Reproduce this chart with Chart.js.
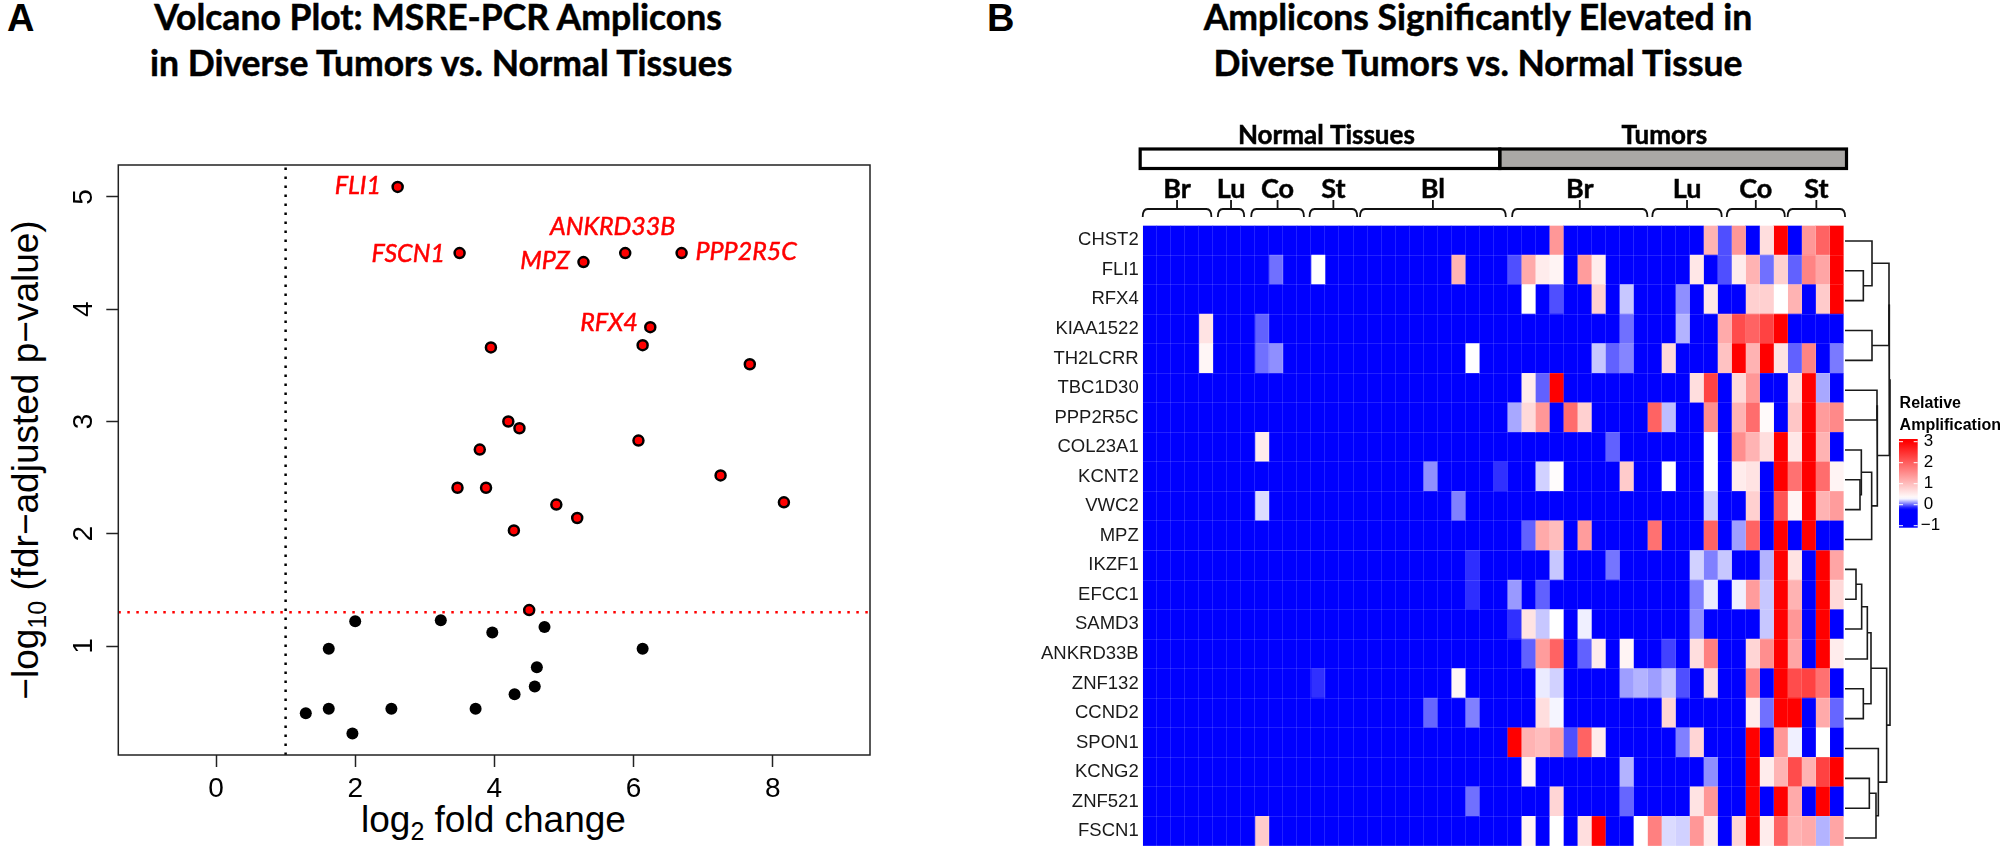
<!DOCTYPE html>
<html>
<head>
<meta charset="utf-8">
<title>Volcano plot and amplicon heatmap</title>
<script src="https://cdn.jsdelivr.net/npm/chart.js@4"></script>
<style>
html, body { margin: 0; padding: 0; background: #fff; width: 2000px; height: 861px; overflow: hidden; }
canvas { position: absolute; top: 0; }
.txt { position: absolute; white-space: nowrap; color: #000; }
.title { font: 700 37px Lato; text-align: center; line-height: 46px; -webkit-text-stroke: 0.5px #000; }
.axis { font: 37px "Liberation Sans"; }
.axis sub { font-size: 25px; line-height: 0; vertical-align: -8px; }
.panel { font: 700 38px "Liberation Sans"; }
</style>
</head>
<body>
<div class="txt panel" style="left:7px;top:-3px">A</div>
<div class="txt panel" style="left:987px;top:-3px">B</div>
<div class="txt title" style="left:138px;width:600px;top:-7px;transform:scaleX(.96)">Volcano Plot: MSRE-PCR Amplicons<br>in Diverse Tumors vs. Normal Tissues</div>
<div class="txt title" style="left:1178px;width:600px;top:-7px;transform:scaleX(.96)">Amplicons Significantly Elevated in<br>Diverse Tumors vs. Normal Tissue</div>
<div class="txt axis" style="left:361px;top:799px">log<sub>2</sub> fold change</div>
<div class="txt axis" id="ytitle" style="left:26px;top:460px;transform:translate(-50%,-50%) rotate(-90deg)">&minus;log<sub>10</sub> (fdr&minus;adjusted p&minus;value)</div>

<canvas id="volcano" width="900" height="861" style="left:0"></canvas>
<canvas id="heat" width="960" height="861" style="left:1040px"></canvas>
<canvas id="dendro" width="50" height="627" style="left:1845px;top:225.5px"></canvas>

<script>
// panel A - volcano points
var sigX = [2.61, 3.50, 5.28, 5.88, 6.69, 6.24, 6.13, 3.95, 7.67, 4.20, 4.36, 6.07, 3.79, 3.47, 3.88, 7.25, 4.89, 8.16, 5.19, 4.28, 4.50];
var sigY = [5.09, 4.50, 4.42, 4.50, 4.50, 3.84, 3.68, 3.66, 3.51, 3.00, 2.94, 2.83, 2.75, 2.41, 2.41, 2.52, 2.26, 2.28, 2.14, 2.03, 1.32];
var nsX = [2.00, 3.23, 3.97, 4.72, 1.62, 6.13, 4.61, 4.58, 4.29, 3.73, 2.52, 1.62, 1.29, 1.96];
var nsY = [1.22, 1.23, 1.12, 1.17, 0.975, 0.975, 0.81, 0.64, 0.57, 0.44, 0.44, 0.44, 0.40, 0.22];

// gene names next to points, x/y in axis units
var geneLabels = ["FLI1", "FSCN1", "ANKRD33B", "MPZ", "PPP2R5C", "RFX4"];
var geneLabelX = [2.37, 3.29, 5.70, 5.08, 6.89, 6.06];
var geneLabelY = [5.10, 4.49, 4.73, 4.43, 4.51, 3.88];
var geneLabelAlign = ["right", "right", "center", "right", "left", "right"];

var foldCutoff = 1;
var fdrCutoff = 1.3;
var volcanoXRange = [-1.404, 9.397];
var volcanoYRange = [0.029, 5.285];

// panel B - heatmap, one array per amplicon, 50 samples each
var o = -1; // bottom of the scale, solid blue
var CHST2 =    [o,o,o,o,o,o,o,o,o,o, o,o,o,o,o,o,o,o,o,o, o,o,o,o,o,o,o,o,o,1.4, o,o,o,o,o,o,o,o,o,o, 1.1,-.045,1.4,o,.65,3,o,1.4,1.95,3];
var FLI1 =     [o,o,o,o,o,o,o,o,o,.02, o,o,.3,o,o,o,o,o,o,o, o,o,1.1,o,o,o,-.045,1.2,.5,.42, o,1.35,.5,o,o,o,o,o,o,.55, o,-.045,.5,1.1,.02,.8,-.01,1.6,1.25,3];
var RFX4 =     [o,o,o,o,o,o,o,o,o,o, o,o,o,o,o,o,o,o,o,o, o,o,o,o,o,o,o,.3,o,-.045, o,o,.8,o,.19,o,o,o,.08,o, .55,o,o,.8,.8,.3,1.1,o,.85,3];
var KIAA1522 = [o,o,o,o,.6,o,o,o,-.01,o, o,o,o,o,o,o,o,o,o,o, o,o,o,o,o,o,o,o,o,o, o,o,o,o,.02,o,o,o,.15,o, o,1.2,2.2,1.95,2.3,3,o,o,o,o];
var TH2LCRR =  [o,o,o,o,.4,o,o,o,.02,.08, o,o,o,o,o,o,o,o,o,o, o,o,o,.3,o,o,o,o,o,o, o,o,.19,-.01,.06,o,o,.7,o,o, o,.95,3,1.1,3,.6,-.01,1.6,o,.04];
var TBC1D30 =  [o,o,o,o,o,o,o,o,o,o, o,o,o,o,o,o,o,o,o,o, o,o,o,o,o,o,o,.5,-.01,3, o,o,o,o,o,o,o,o,o,.65, 2.3,o,.7,1.4,o,o,.65,3,.13,o];
var PPP2R5C =  [o,o,o,o,o,o,o,o,o,o, o,o,o,o,o,o,o,o,o,o, o,o,o,o,o,o,.13,.7,1.4,o, 1.85,.8,o,o,o,o,1.95,.17,o,o, 1.5,o,1.1,1.85,.35,o,.9,3,1.35,1.55];
var COL23A1 =  [o,o,o,o,o,o,o,o,.5,o, o,o,o,o,o,o,o,o,o,o, o,o,o,o,o,o,o,o,o,o, o,o,o,-.01,o,o,o,o,o,o, .3,o,1.5,1.1,.65,3,.55,3,1.1,o];
var KCNT2 =    [o,o,o,o,o,o,o,o,o,o, o,o,o,o,o,o,o,o,o,o, .08,o,o,o,o,-.105,o,o,.21,.33, o,o,o,o,.85,o,o,.3,o,o, .3,o,.5,.6,o,3,1.8,3,1.85,.42];
var VWC2 =     [o,o,o,o,o,o,o,o,.23,o, o,o,o,o,o,o,o,o,o,o, o,o,.05,o,o,o,o,o,o,o, o,o,o,o,o,o,o,o,o,o, .21,o,o,.8,o,2.1,.42,3,1.1,1.35];
var MPZ =      [o,o,o,o,o,o,o,o,o,o, o,o,o,o,o,o,o,o,o,o, o,o,o,o,o,o,o,-.01,1.2,1, o,1.35,o,o,o,o,1.8,o,o,o, 1.95,o,.11,1.95,o,3,o,3,o,o];
var IKZF1 =    [o,o,o,o,o,o,o,o,o,o, o,o,o,o,o,o,o,o,o,o, o,o,o,-.11,o,o,o,o,o,.19, o,o,o,.03,o,o,o,o,o,.21, .05,.19,o,o,.15,3,.6,o,3,1.25];
var EFCC1 =    [o,o,o,o,o,o,o,o,o,o, o,o,o,o,o,o,o,o,o,o, o,o,o,-.11,o,o,.1,o,-.01,o, o,o,o,o,o,o,o,o,o,.05, .26,o,.27,1.35,.19,3,1.1,o,3,.7];
var SAMD3 =    [o,o,o,o,o,o,o,o,o,o, o,o,o,o,o,o,o,o,o,o, o,o,o,o,o,o,-.105,.6,.19,.3, o,.27,o,o,o,o,o,o,o,.08, o,o,o,o,.19,3,1.4,o,3,o];
var ANKRD33B = [o,o,o,o,o,o,o,o,o,o, o,o,o,o,o,o,o,o,o,o, o,o,o,o,o,o,o,-.01,1.35,1.95, o,-.01,.5,o,.42,o,o,-.07,o,.65, 1.65,o,o,.75,1.5,3,1.25,o,3,.5];
var ZNF132 =   [o,o,o,o,o,o,o,o,o,o, o,o,-.105,o,o,o,o,o,o,o, o,o,.4,o,o,o,o,o,.26,.21, o,o,o,o,.11,.15,.11,.19,-.045,o, .65,o,o,1.65,o,3,2.2,2.3,1.8,o];
var CCND2 =    [o,o,o,o,o,o,o,o,o,o, o,o,o,o,o,o,o,o,o,o, 0,o,o,.05,o,o,o,o,.65,.28, o,o,o,o,o,o,o,.75,o,o, o,o,o,.5,.02,3,3,o,1.2,0];
var SPON1 =    [o,o,o,o,o,o,o,o,o,o, o,o,o,o,o,o,o,o,o,o, o,o,o,o,o,o,3,1.1,1,1.25, -.045,1.95,.5,o,o,o,o,o,.05,.75, o,o,o,3,o,1.4,.27,o,.3,o];
var KCNG2 =    [o,o,o,o,o,o,o,o,o,o, o,o,o,o,o,o,o,o,o,o, o,o,o,o,o,o,o,.42,o,o, o,o,o,o,.15,o,o,o,o,o, .08,o,o,3,.5,1.1,2.2,1.1,2.3,3];
var ZNF521 =   [o,o,o,o,o,o,o,o,o,o, o,o,o,o,o,o,o,o,o,o, o,o,o,.02,o,o,o,o,o,.75, o,o,o,o,0,o,o,o,o,.6, 1.4,o,o,3,o,3,1.2,o,3,o];
var FSCN1 =    [o,o,o,o,o,o,o,o,.85,o, o,o,o,o,o,o,o,o,o,o, o,o,o,o,o,o,o,.42,o,.3, o,.65,3,o,o,.3,1.65,.23,.21,1.4, .5,o,.75,3,.5,1.95,1.1,1.2,.15,1.25];

var rowNames = ["CHST2", "FLI1", "RFX4", "KIAA1522", "TH2LCRR", "TBC1D30", "PPP2R5C", "COL23A1", "KCNT2", "VWC2", "MPZ",
    "IKZF1", "EFCC1", "SAMD3", "ANKRD33B", "ZNF132", "CCND2", "SPON1", "KCNG2", "ZNF521", "FSCN1"];
var rowValues = [CHST2, FLI1, RFX4, KIAA1522, TH2LCRR, TBC1D30, PPP2R5C, COL23A1, KCNT2, VWC2, MPZ,
    IKZF1, EFCC1, SAMD3, ANKRD33B, ZNF132, CCND2, SPON1, KCNG2, ZNF521, FSCN1];
var sampleCount = 50;

// column annotations, in sample units
var classLabels = ["Normal Tissues", "Tumors"];
var classStart = [-0.18, 25.47];
var classEnd = [25.47, 50.2];
var classCenter = [13.1, 37.2];
var tissueLabels = ["Br", "Lu", "Co", "St", "Bl", "Br", "Lu", "Co", "St"];
var tissueStart = [0, 5.36, 7.74, 11.9, 15.5, 26.35, 36.35, 41.66, 46];
var tissueEnd = [4.9, 7.24, 11.5, 15.3, 25.9, 36, 41.3, 45.8, 50.1];

// colour key
var keyTicks = [3, 2, 1, 0, -1];

// row dendrogram, hclust style: negative = row (1 based), positive = earlier merge
var mergeLeft = [-2, -1, -4, 2, -6, -9, -8, 7, 5, 4, -12, 11, 12, -16, 13, -19, 16, -18, 15, 10];
var mergeRight = [-3, 1, -5, 3, -7, -10, 6, -11, 8, 9, -13, -14, -15, -17, 14, -20, -21, 17, 18, 19];
var mergeHeight = [55, 81, 81, 132, 96, 45, 49, 80, 97, 133, 33, 50, 67, 55, 78, 73, 93, 100, 125, 135];

function toXY(xs, ys) {
    var pts = [];
    for (var i in xs) {
        pts.push({x: xs[i], y: ys[i]});
    }
    return pts;
}

// blue -> white -> red, saturates under -0.2 like the key of the figure
function heatColor(v) {
    var c;
    if (v <= 0.3) {
        var t = Math.max(0, (v + 0.2) / 0.5);
        c = Math.round(255 * t);
        return "rgb(" + c + "," + c + ",255)";
    }
    c = Math.round(255 * (1 - Math.min(1, (v - 0.3) / 2.7)));
    return "rgb(255," + c + "," + c + ")";
}

// volcano
var volcanoPlugin = {
    id: "volcanoExtras",
    afterDraw: function (chart) {
        var ctx = chart.ctx;
        var a = chart.chartArea;
        ctx.save();
        ctx.strokeStyle = "#222";
        ctx.lineWidth = 1.5;
        ctx.strokeRect(a.left, a.top, a.right - a.left, a.bottom - a.top);
        ctx.fillStyle = "#ff0000";
        ctx.strokeStyle = "#ff0000";
        ctx.lineWidth = 0.5;
        ctx.font = "italic 25px Lato";
        ctx.textBaseline = "middle";
        for (var i in geneLabels) {
            var gx = chart.scales.x.getPixelForValue(geneLabelX[i]);
            var gy = chart.scales.y.getPixelForValue(geneLabelY[i]);
            ctx.textAlign = geneLabelAlign[i];
            ctx.fillText(geneLabels[i], gx, gy);
            ctx.strokeText(geneLabels[i], gx, gy);
        }
        ctx.restore();
    }
};

new Chart(document.getElementById("volcano"), {
    type: "scatter",
    data: {
        datasets: [
            {data: toXY(sigX, sigY), backgroundColor: "#ff0000", borderColor: "#000", borderWidth: 2.5, pointRadius: 5},
            {data: toXY(nsX, nsY), backgroundColor: "#000", borderColor: "#000", borderWidth: 0, pointRadius: 6},
            {data: toXY([foldCutoff, foldCutoff], volcanoYRange), showLine: true, pointRadius: 0, borderColor: "#000", borderWidth: 2.5, borderDash: [2.5, 6.5]},
            {data: toXY(volcanoXRange, [fdrCutoff, fdrCutoff]), showLine: true, pointRadius: 0, borderColor: "#ff0000", borderWidth: 2.5, borderDash: [2.5, 6.5]}
        ]
    },
    plugins: [volcanoPlugin],
    options: {
        responsive: false,
        animation: false,
        layout: {padding: {top: 165, right: 30, bottom: 0, left: 0}},
        plugins: {legend: {display: false}, tooltip: {enabled: false}},
        scales: {
            x: {
                min: volcanoXRange[0],
                max: volcanoXRange[1],
                afterFit: function (scale) { scale.height = 106; },
                grid: {drawOnChartArea: false, tickLength: 12, tickColor: "#222", tickWidth: 1.5},
                border: {display: false},
                ticks: {stepSize: 2, includeBounds: false, padding: 5, color: "#000", font: {family: "Liberation Sans", size: 28}, maxRotation: 0}
            },
            y: {
                min: volcanoYRange[0],
                max: volcanoYRange[1],
                afterFit: function (scale) { scale.width = 118.3; },
                grid: {drawOnChartArea: false, tickLength: 12, tickColor: "#222", tickWidth: 1.5},
                border: {display: false},
                ticks: {stepSize: 1, includeBounds: false, padding: 14, color: "#000", font: {family: "Liberation Sans", size: 28}, minRotation: 90, maxRotation: 90, crossAlign: "center"}
            }
        }
    }
});

// heatmap: every sample is one floating bar per row
var heatDatasets = [];
for (var k = 0; k < sampleCount; k++) {
    heatDatasets.push({
        data: rowNames.map(function () { return [k, k + 1]; }),
        backgroundColor: rowValues.map(function (row) { return heatColor(row[k]); }),
        borderWidth: 0,
        grouped: false,
        barPercentage: 1,
        categoryPercentage: 1
    });
}

var heatPlugin = {
    id: "heatExtras",
    afterDraw: function (chart) {
        var ctx = chart.ctx;
        var xs = chart.scales.x;
        var i, x0, x1, xc;
        ctx.save();
        ctx.fillStyle = "#000";
        ctx.textAlign = "center";
        ctx.textBaseline = "alphabetic";

        // class bar
        x0 = xs.getPixelForValue(classStart[1]);
        x1 = xs.getPixelForValue(classEnd[1]);
        ctx.fillStyle = "#aaa8a6";
        ctx.fillRect(x0, 149, x1 - x0, 19.5);
        ctx.strokeStyle = "#000";
        ctx.lineWidth = 3.2;
        for (i in classLabels) {
            x0 = xs.getPixelForValue(classStart[i]);
            x1 = xs.getPixelForValue(classEnd[i]);
            ctx.strokeRect(x0, 149, x1 - x0, 19.5);
        }
        ctx.fillStyle = "#000";
        ctx.lineWidth = 0.5;
        ctx.font = "700 26px Lato";
        for (i in classLabels) {
            xc = xs.getPixelForValue(classCenter[i]);
            ctx.fillText(classLabels[i], xc, 144);
            ctx.strokeText(classLabels[i], xc, 144);
        }

        // tissue brackets
        ctx.strokeStyle = "#111";
        for (i in tissueLabels) {
            x0 = xs.getPixelForValue(tissueStart[i]);
            x1 = xs.getPixelForValue(tissueEnd[i]);
            xc = (x0 + x1) / 2;
            ctx.lineWidth = 1.8;
            ctx.beginPath();
            ctx.moveTo(x0, 217);
            ctx.quadraticCurveTo(x0, 209, x0 + 5, 209);
            ctx.lineTo(x1 - 5, 209);
            ctx.quadraticCurveTo(x1, 209, x1, 217);
            ctx.moveTo(xc, 209);
            ctx.lineTo(xc, 200);
            ctx.stroke();
            ctx.lineWidth = 0.5;
            ctx.font = "700 27px Lato";
            ctx.fillText(tissueLabels[i], xc, 198);
            ctx.strokeText(tissueLabels[i], xc, 198);
        }

        // colour key, drawn in page coordinates less the canvas offset
        var keyLeft = 859, keyRight = 877.7, keyTop = 439, keyBottom = 527.7;
        var tickTop = 441.7, tickStep = 21;
        var grad = ctx.createLinearGradient(0, keyTop, 0, keyBottom);
        var steps = 40;
        for (i = 0; i <= steps; i++) {
            var y = keyTop + (keyBottom - keyTop) * i / steps;
            grad.addColorStop(i / steps, heatColor(3 - (y - tickTop) / tickStep));
        }
        ctx.fillStyle = grad;
        ctx.fillRect(keyLeft, keyTop, keyRight - keyLeft, keyBottom - keyTop);
        ctx.strokeStyle = "#fff";
        ctx.lineWidth = 1;
        ctx.font = "17px 'Liberation Sans'";
        ctx.textAlign = "left";
        ctx.textBaseline = "middle";
        for (i in keyTicks) {
            var ty = tickTop + (3 - keyTicks[i]) * tickStep;
            ctx.beginPath();
            ctx.moveTo(keyLeft, ty);
            ctx.lineTo(keyLeft + 4, ty);
            ctx.moveTo(keyRight - 4, ty);
            ctx.lineTo(keyRight, ty);
            ctx.stroke();
            ctx.fillStyle = "#000";
            ctx.fillText(String(keyTicks[i]).replace("-", "\u2212"), keyRight + 3 - (keyTicks[i] < 0 ? 0 : -3), ty);
        }
        ctx.font = "700 16px 'Liberation Sans'";
        ctx.fillText("Relative", keyLeft + 0.6, 404);
        ctx.fillText("Amplification", keyLeft + 0.6, 426);
        ctx.restore();
    }
};

new Chart(document.getElementById("heat"), {
    type: "bar",
    data: {labels: rowNames, datasets: heatDatasets},
    plugins: [heatPlugin],
    options: {
        indexAxis: "y",
        responsive: false,
        animation: false,
        layout: {padding: {top: 225.5, right: 156.3, bottom: 9, left: 0}},
        plugins: {legend: {display: false}, tooltip: {enabled: false}},
        scales: {
            x: {
                type: "linear",
                min: 0,
                max: sampleCount,
                afterFit: function (scale) { scale.height = 0; },
                grid: {z: 1, drawTicks: false, color: "rgba(255,255,255,0.13)", lineWidth: 1},
                border: {display: false},
                ticks: {display: false, stepSize: 1, includeBounds: false}
            },
            y: {
                afterFit: function (scale) { scale.width = 102.7; },
                grid: {z: 1, drawTicks: false, color: "rgba(255,255,255,0.13)", lineWidth: 1},
                border: {display: false},
                ticks: {autoSkip: false, padding: 4, color: "#1a1a1a", font: {family: "Liberation Sans", size: 18.5}}
            }
        }
    }
});

// dendrogram on the right of the heatmap
var nodeY = [];
var dendroSets = [];
function childY(id) {
    return id < 0 ? -id - 0.5 : nodeY[id - 1];
}
function childH(id) {
    return id < 0 ? 0 : mergeHeight[id - 1];
}
for (var m in mergeLeft) {
    var l = mergeLeft[m], r = mergeRight[m], h = mergeHeight[m];
    dendroSets.push({
        data: toXY([childH(l), h, h, childH(r)], [childY(l), childY(l), childY(r), childY(r)]),
        showLine: true,
        pointRadius: 0,
        borderColor: "#1a1a1a",
        borderWidth: 1.6,
        tension: 0,
        clip: false
    });
    nodeY.push((childY(l) + childY(r)) / 2);
}

new Chart(document.getElementById("dendro"), {
    type: "scatter",
    data: {datasets: dendroSets},
    options: {
        responsive: false,
        animation: false,
        layout: {padding: 0},
        plugins: {legend: {display: false}, tooltip: {enabled: false}},
        scales: {
            x: {min: 0, max: 150, display: false},
            y: {min: 0, max: rowNames.length, reverse: true, display: false}
        }
    }
});
</script>
</body>
</html>
